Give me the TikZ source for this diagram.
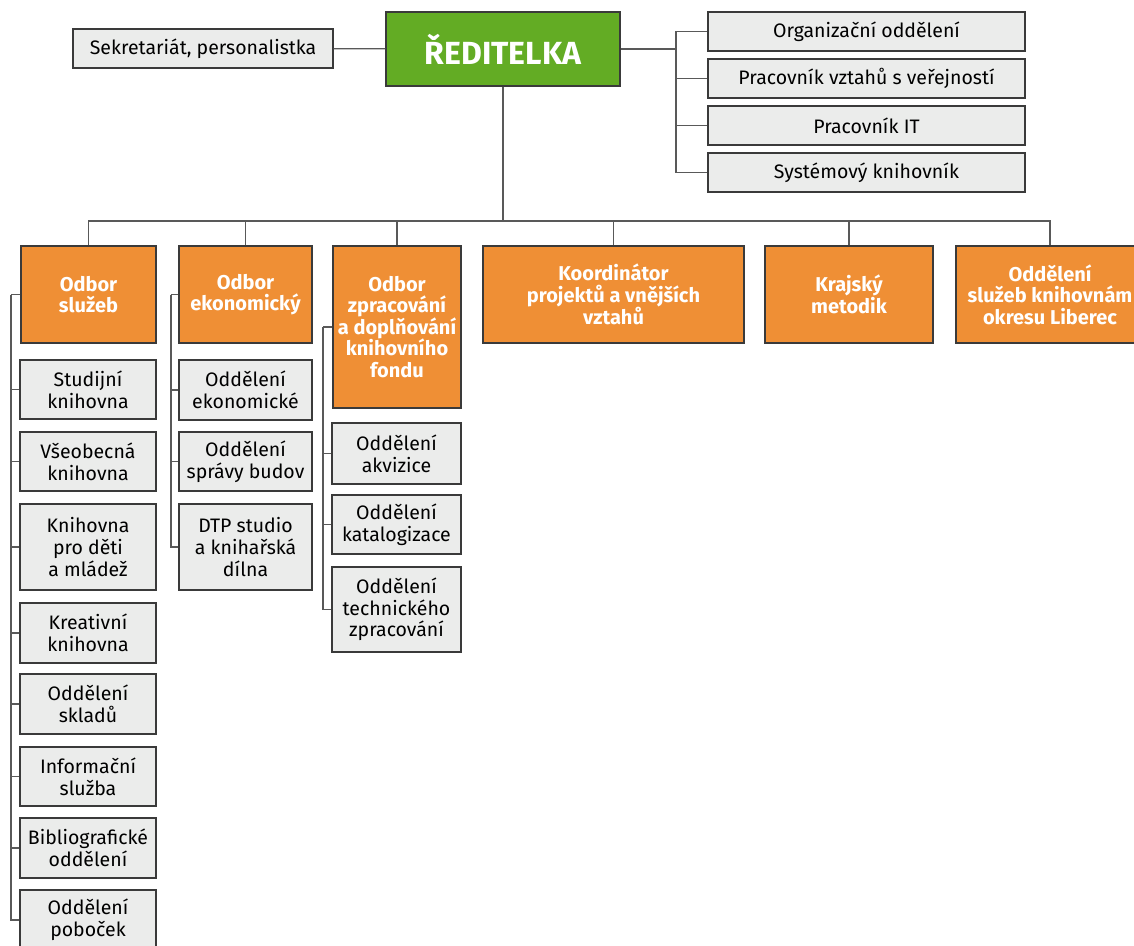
\documentclass[tikz,border=0pt]{standalone}
\usepackage{fontspec}
\setmainfont{Fira Sans}
\definecolor{ridgreen}{HTML}{63AC24}
\definecolor{odborange}{HTML}{EF8F35}
\definecolor{boxgray}{HTML}{EBECEB}
\definecolor{rimgray}{HTML}{3A3A3A}
\begin{document}
\begin{tikzpicture}[x=1pt, y=-1pt,
  link/.style={draw=black!65, line width=1.2pt},
  box/.style={draw=rimgray, line width=1.3pt, fill=boxgray, align=center, inner sep=0pt, font=\fontsize{19.5}{21.7}\selectfont},
  odbor/.style={box, fill=odborange, text=white, font=\fontsize{20}{21.5}\selectfont\bfseries},
  head/.style={box, fill=ridgreen, text=white, font=\fontsize{32}{36}\selectfont\bfseries}]
  \useasboundingbox (0,0) rectangle (1134,945);
  \clip (0,0) rectangle (1134,945);
  % vedeni
  \node[head, minimum width=234pt, minimum height=74pt] (red) at (503,49) {ŘEDITELKA};
  \node[box, minimum width=260pt, minimum height=39pt] (sekr) at (203,48.5) {Sekretariát, personalistka};
  \node[box, minimum width=317pt, minimum height=39pt] (org) at (866.5,31.5) {Organizační oddělení};
  \node[box, minimum width=317pt, minimum height=39pt] (vztah) at (866.5,78.5) {Pracovník vztahů s veřejností};
  \node[box, minimum width=317pt, minimum height=39pt] (it) at (866.5,125.5) {Pracovník IT};
  \node[box, minimum width=317pt, minimum height=39pt] (sys) at (866.5,172.5) {Systémový knihovník};
  % odbory
  \node[odbor, minimum width=135pt, minimum height=97pt] (sluz) at (88.5,294.5) {Odbor\\služeb};
  \node[odbor, minimum width=133pt, minimum height=97pt] (ekon) at (245.5,294.5) {Odbor\\ekonomický};
  \node[odbor, minimum width=128pt, minimum height=162pt] (zprac) at (397,327) {Odbor\\zpracování\\a doplňování\\knihovního\\fondu};
  \node[odbor, minimum width=261pt, minimum height=97pt] (koord) at (613.5,294.5) {Koordinátor\\projektů a vnějších\\vztahů};
  \node[odbor, minimum width=168pt, minimum height=97pt] (kraj) at (849,294.5) {Krajský\\metodik};
  \node[odbor, minimum width=188pt, minimum height=97pt] (okres) at (1050,294.5) {Oddělení\\služeb knihovnám\\okresu Liberec};
  % odbor sluzeb
  \node[box, minimum width=136pt, minimum height=59pt] (stud) at (88,389.5) {Studijní\\knihovna};
  \node[box, minimum width=136pt, minimum height=59pt] (vseo) at (88,461.5) {Všeobecná\\knihovna};
  \node[box, minimum width=136pt, minimum height=86pt] (deti) at (88,547) {Knihovna\\pro děti\\a mládež};
  \node[box, minimum width=136pt, minimum height=60pt] (kreat) at (88,633) {Kreativní\\knihovna};
  \node[box, minimum width=136pt, minimum height=60pt] (sklad) at (88,704) {Oddělení\\skladů};
  \node[box, minimum width=136pt, minimum height=59pt] (info) at (88,776.5) {Informační\\služba};
  \node[box, minimum width=136pt, minimum height=60pt] (bibl) at (88,848) {Bibliografické\\oddělení};
  \node[box, minimum width=136pt, minimum height=60pt] (pob) at (88,920) {Oddělení\\poboček};
  % odbor ekonomicky
  \node[box, minimum width=133pt, minimum height=60pt] (odek) at (245.5,390) {Oddělení\\ekonomické};
  \node[box, minimum width=133pt, minimum height=59pt] (budov) at (245.5,461.5) {Oddělení\\správy budov};
  \node[box, minimum width=133pt, minimum height=86pt] (dtp) at (245.5,547) {DTP studio\\a knihařská\\dílna};
  % odbor zpracovani
  \node[box, minimum width=129pt, minimum height=61pt] (akv) at (396.5,453.5) {Oddělení\\akvizice};
  \node[box, minimum width=129pt, minimum height=59pt] (kat) at (396.5,524.5) {Oddělení\\katalogizace};
  \node[box, minimum width=129pt, minimum height=85pt] (tech) at (396.5,609.5) {Oddělení\\technického\\zpracování};
  % spoje
  \coordinate (rbus) at (676,49);
  \coordinate (bbus) at (503,221);
  \coordinate (s1) at (11,294.5);
  \coordinate (s2) at (171,294.5);
  \coordinate (s3) at (323,327);
  \draw[link] (sekr) -- (red);
  \draw[link] (red) -- (rbus);
  \foreach \n in {org,vztah,it,sys} \draw[link] (\n.west) -| (rbus);
  \draw[link] (red) -- (bbus);
  \foreach \n in {sluz,ekon,zprac,koord,kraj,okres} \draw[link] (\n.north) |- (bbus);
  \draw[link] (sluz.west) -- (s1);
  \foreach \n in {stud,vseo,deti,kreat,sklad,info,bibl,pob} \draw[link] (\n.west) -| (s1);
  \draw[link] (ekon.west) -- (s2);
  \foreach \n in {odek,budov,dtp} \draw[link] (\n.west) -| (s2);
  \draw[link] (zprac.west) -- (s3);
  \foreach \n in {akv,kat,tech} \draw[link] (\n.west) -| (s3);
\end{tikzpicture}
\end{document}
